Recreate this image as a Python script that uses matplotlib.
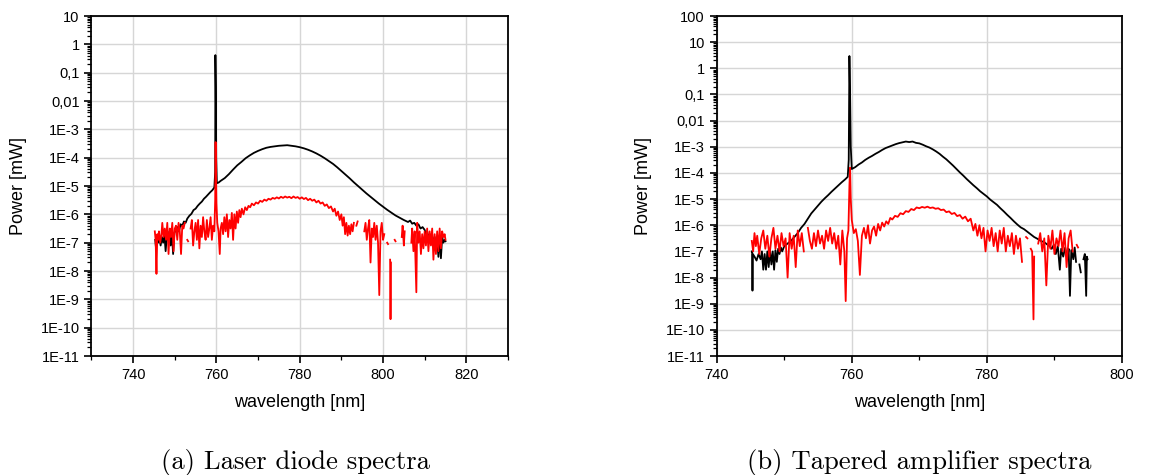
"""
Spectra of the laser diode and the tapered amplifier, log power vs wavelength.
Saves out.png.
"""

import matplotlib
matplotlib.use("Agg")
import matplotlib.pyplot as plt
import matplotlib.ticker as mticker
import numpy as np

nan = float("nan")

plt.rcParams.update({
    "font.family": ["Liberation Sans", "DejaVu Sans"],
    "font.size": 10.5,
    "axes.linewidth": 1.3,
})

# ── values: wavelength [nm], log10(power / mW) ──────────────────────────────
# (a) laser diode, black trace
ld_black_wl = [
    745.3, 745.5, 745.7, 746.0, 746.3, 746.6, 746.9, 747.2, 747.5, 747.8,
    748.1, 748.4, 748.7, 749.0, 749.3, 749.6, 749.9, 750.3, 750.7, 751.0,
    751.4, 751.8, 752.2, 752.6, 753.0, 753.5, 754.0, 754.5, 755.0, 755.5,
    756.0, 756.5, 757.0, 757.5, 758.0, 758.5, 759.0, 759.5, 759.7, 759.75,
    759.85, 759.95, 760.1, 760.5, 761.0, 762.0, 763.0, 764.0, 765.0, 766.0,
    767.0, 768.0, 769.0, 770.0, 771.0, 772.0, 773.0, 774.0, 775.0, 776.0,
    777.0, 778.0, 779.0, 780.0, 781.0, 782.0, 783.0, 784.0, 785.0, 786.0,
    787.0, 788.0, 789.0, 790.0, 791.0, 792.0, 793.0, 794.0, 795.0, 796.0,
    797.0, 798.0, 799.0, 800.0, 801.0, 802.0, 803.0, 804.0, 805.0, 806.0,
    806.5, 807.0, 807.5, 808.0, 808.5, 809.0, 809.5, 810.0, 810.3, 810.6,
    810.9, 811.2, 811.5, 811.8, 812.1, 812.4, 812.7, 813.0, 813.3, 813.6,
    813.9, 814.2, 814.5, 814.8, 815.0,
]
ld_black_logp = [
    -6.9, -7.2, -6.8, -7.0, -6.85, -7.1, -6.8, -7.0, -6.7, -7.3,
    -6.75, -6.9, -6.6, -7.1, -6.7, -7.4, -6.65, -6.55, -6.45, -6.6,
    -6.35, -6.4, -6.25, -6.3, -6.15, -6.05, -5.98, -5.85, -5.8, -5.7,
    -5.62, -5.55, -5.45, -5.38, -5.3, -5.22, -5.15, -5.05, -4.5, -0.38,
    -1.5, -4.0, -4.9, -4.88, -4.82, -4.72, -4.58, -4.42, -4.27, -4.15,
    -4.02, -3.92, -3.83, -3.76, -3.7, -3.65, -3.62, -3.6, -3.58, -3.57,
    -3.56, -3.58, -3.6, -3.63, -3.67, -3.72, -3.78, -3.85, -3.93, -4.02,
    -4.12, -4.22, -4.34, -4.47, -4.6, -4.73, -4.87, -5.0, -5.13, -5.26,
    -5.38, -5.5, -5.62, -5.73, -5.84, -5.94, -6.04, -6.12, -6.2, -6.27,
    -6.22, -6.33, -6.3, -6.4, -6.35, -6.5, -6.45, -6.55, -6.7, -6.6,
    -6.85, -6.7, -6.95, -6.75, -7.1, -6.8, -7.2, -6.9, -7.5, -6.75,
    -7.55, -6.8, -7.0, -6.9, -6.95,
]

# (a) laser diode, red trace (gaps = no positive reading)
ld_red_wl = [
    745.2, 745.4, 745.6, 745.8, 746.0, 746.2, 746.5, 746.8, 747.0, 747.3,
    747.6, 747.9, 748.2, 748.5, 748.8, 749.1, 749.4, 749.7, 750.0, 750.3,
    750.6, 750.9, 751.2, 751.5, 751.8, 752.1, 752.4, 752.7, 753.0, 753.2,
    753.4, 753.8, 754.1, 754.4, 754.7, 755.0, 755.3, 755.6, 755.9, 756.2,
    756.5, 756.8, 757.1, 757.4, 757.7, 758.0, 758.3, 758.6, 758.9, 759.2,
    759.5, 759.7, 759.8, 759.9, 760.0, 760.2, 760.5, 760.8, 761.0, 761.3,
    761.6, 761.9, 762.2, 762.5, 762.8, 763.1, 763.4, 763.7, 764.0, 764.3,
    764.6, 764.9, 765.2, 765.5, 765.8, 766.1, 766.5, 766.9, 767.3, 767.7,
    768.1, 768.5, 769.0, 769.5, 770.0, 770.5, 771.0, 771.5, 772.0, 772.5,
    773.0, 773.5, 774.0, 774.5, 775.0, 775.5, 776.0, 776.5, 777.0, 777.5,
    778.0, 778.5, 779.0, 779.5, 780.0, 780.5, 781.0, 781.5, 782.0, 782.5,
    783.0, 783.5, 784.0, 784.5, 785.0, 785.5, 786.0, 786.5, 787.0, 787.5,
    788.0, 788.4, 788.8, 789.2, 789.6, 790.0, 790.3, 790.6, 790.9, 791.2,
    791.5, 791.8, 792.1, 792.4, 792.7, 793.0, 793.3, 793.6, 793.9, 794.2,
    795.5, 795.8, 796.1, 796.4, 796.7, 797.0, 797.3, 797.6, 797.9, 798.2,
    798.5, 798.8, 799.1, 799.4, 799.7, 800.0, 800.3, 800.6, 801.0, 801.2,
    801.4, 801.7, 801.8, 801.9, 802.0, 802.8, 803.0, 803.1, 804.5, 804.7,
    805.0, 805.2, 805.4, 806.8, 807.0, 807.3, 807.6, 808.0, 808.2, 808.5,
    808.8, 809.1, 809.4, 809.7, 810.0, 810.3, 810.6, 810.9, 811.2, 811.5,
    811.8, 812.1, 812.4, 812.7, 813.0, 813.3, 813.6, 813.9, 814.2, 814.5,
    814.8, 815.0,
]
ld_red_logp = [
    -6.6, -6.9, -8.1, -6.7, -6.9, -6.6, -7.0, -6.7, -6.3, -6.8,
    -6.5, -6.9, -6.3, -7.4, -6.5, -6.8, -6.3, -7.3, -6.5, -6.4,
    -6.9, -6.3, -6.6, -7.4, -6.4, -6.5, -6.3, nan, -6.9, -6.95,
    nan, -6.5, -6.2, -7.1, -6.6, -6.3, -6.9, -6.2, -7.2, -6.4,
    -6.8, -6.1, -6.6, -6.9, -6.2, -6.8, -6.5, -6.1, -6.9, -6.4,
    -6.6, -5.5, -3.45, -4.6, -5.6, -6.3, -6.6, -7.4, -6.5, -6.3,
    -6.7, -6.1, -6.6, -6.0, -6.8, -6.2, -6.5, -5.95, -6.9, -6.0,
    -6.5, -5.9, -6.3, -5.85, -6.1, -5.8, -6.0, -5.75, -5.85, -5.7,
    -5.75, -5.62, -5.68, -5.58, -5.62, -5.52, -5.56, -5.48, -5.52, -5.45,
    -5.48, -5.42, -5.45, -5.4, -5.44, -5.38, -5.42, -5.37, -5.41, -5.38,
    -5.43, -5.37, -5.42, -5.39, -5.45, -5.4, -5.46, -5.42, -5.5, -5.45,
    -5.52, -5.48, -5.58, -5.52, -5.62, -5.58, -5.7, -5.65, -5.78, -5.72,
    -5.9, -5.8, -6.05, -5.9, -6.2, -6.0, -6.4, -6.1, -6.7, -6.3,
    -6.75, -6.4, -6.7, -6.35, -6.6, -6.3, nan, -6.4, -6.25, nan,
    -6.6, -6.3, -6.9, -6.5, -6.2, -7.7, -6.5, -6.8, -6.3, -6.9,
    -6.4, -7.0, -8.85, -6.6, -6.3, -6.9, -6.7, nan, -7.0, -7.05,
    nan, -7.6, -9.7, -7.7, nan, -6.9, -6.95, nan, -6.8, -6.4,
    -7.1, -6.6, nan, -7.0, -6.5, -7.3, -6.6, -8.75, -6.3, -7.0,
    -6.6, -7.4, -6.7, -7.2, -6.6, -7.1, -6.5, -7.3, -6.6, -7.1,
    -6.5, -7.6, -6.7, -7.4, -6.6, -7.3, -6.5, -7.2, -6.6, -6.8,
    -6.7, -6.9,
]

# (b) tapered amplifier, black trace
ta_black_wl = [
    745.2, 745.25, 745.3, 745.35, 745.6, 745.9, 746.2, 746.5, 746.7, 746.9,
    747.1, 747.3, 747.5, 747.7, 747.9, 748.1, 748.3, 748.5, 748.7, 748.9,
    749.1, 749.3, 749.5, 749.7, 750.0, 750.5, 751.0, 751.5, 752.0, 752.5,
    753.0, 753.5, 754.0, 754.5, 755.0, 755.5, 756.0, 756.5, 757.0, 757.5,
    758.0, 758.5, 759.0, 759.4, 759.55, 759.65, 759.75, 759.85, 760.0, 760.5,
    761.0, 761.5, 762.0, 762.5, 763.0, 763.5, 764.0, 764.5, 765.0, 765.5,
    766.0, 766.5, 767.0, 767.5, 768.0, 768.5, 769.0, 769.5, 770.0, 770.5,
    771.0, 771.5, 772.0, 772.5, 773.0, 773.5, 774.0, 774.5, 775.0, 775.5,
    776.0, 776.5, 777.0, 777.5, 778.0, 778.5, 779.0, 779.5, 780.0, 780.5,
    781.0, 781.5, 782.0, 782.5, 783.0, 783.5, 784.0, 784.5, 785.0, 785.5,
    786.0, 786.5, 787.0, 787.5, 788.0, 788.5, 789.0, 789.3, 789.6, 789.9,
    790.2, 790.5, 790.8, 791.0, 791.3, 791.6, 791.9, 792.1, 792.3, 792.5,
    792.8, 793.0, 793.2, 793.4, 793.7, 793.9, 794.1, 794.3, 794.5, 794.7,
    794.8, 794.9,
]
ta_black_logp = [
    -7.0, -7.0, -8.5, -7.1, -7.2, -7.35, -7.1, -7.3, -7.0, -7.7,
    -7.1, -7.7, -7.0, -7.6, -6.95, -7.5, -7.0, -7.7, -6.95, -7.4,
    -6.9, -7.1, -6.85, -7.0, -6.8, -6.7, -6.6, -6.45, -6.3, -6.1,
    -5.95, -5.75, -5.55, -5.4, -5.25, -5.1, -4.97, -4.85, -4.72, -4.6,
    -4.48, -4.36, -4.25, -4.15, -3.5, 0.47, -1.0, -3.0, -3.85, -3.78,
    -3.68, -3.6, -3.5, -3.42, -3.35, -3.27, -3.2, -3.12, -3.05, -3.0,
    -2.95, -2.9, -2.86, -2.83, -2.8, -2.82, -2.8, -2.85, -2.87, -2.92,
    -2.98, -3.03, -3.1, -3.18, -3.27, -3.38, -3.48, -3.6, -3.72, -3.85,
    -3.98, -4.1, -4.23, -4.35, -4.47, -4.58, -4.7, -4.8, -4.9, -5.02,
    -5.12, -5.22, -5.35, -5.47, -5.6, -5.72, -5.85, -5.97, -6.08, -6.15,
    -6.25, -6.35, -6.45, -6.52, -6.6, -6.65, -6.75, -6.8, -6.9, -6.75,
    -7.1, -6.8, -7.7, -6.9, -7.2, -6.85, -7.3, -6.9, -8.7, -6.95,
    -7.3, -6.85, -7.4, nan, -7.5, -7.8, nan, -7.3, -7.1, -8.7,
    -7.2, -7.3,
]

# (b) tapered amplifier, red trace
ta_red_wl = [
    745.2, 745.4, 745.6, 745.8, 746.0, 746.3, 746.6, 746.9, 747.2, 747.5,
    747.8, 748.1, 748.4, 748.7, 749.0, 749.3, 749.6, 749.9, 750.2, 750.5,
    750.8, 751.1, 751.4, 751.7, 752.0, 752.3, 752.6, 752.9, 753.1, 753.5,
    753.8, 754.1, 754.4, 754.7, 755.0, 755.3, 755.6, 755.9, 756.2, 756.5,
    756.8, 757.1, 757.4, 757.7, 758.0, 758.3, 758.6, 758.9, 759.1, 759.3,
    759.5, 759.65, 759.75, 759.85, 760.0, 760.3, 760.6, 760.9, 761.2, 761.5,
    761.8, 762.1, 762.4, 762.7, 763.0, 763.3, 763.6, 763.9, 764.2, 764.5,
    764.8, 765.1, 765.4, 765.7, 766.0, 766.4, 766.8, 767.2, 767.6, 768.0,
    768.4, 768.8, 769.2, 769.6, 770.0, 770.4, 770.8, 771.2, 771.6, 772.0,
    772.4, 772.8, 773.2, 773.6, 774.0, 774.4, 774.8, 775.2, 775.6, 776.0,
    776.4, 776.8, 777.2, 777.6, 778.0, 778.3, 778.6, 778.9, 779.2, 779.5,
    779.8, 780.1, 780.4, 780.7, 781.0, 781.3, 781.6, 781.9, 782.2, 782.5,
    782.8, 783.1, 783.4, 783.7, 784.0, 784.3, 784.6, 784.9, 785.2, 785.4,
    785.8, 786.0, 786.1, 786.5, 786.7, 786.9, 787.0, 787.1, 787.6, 787.9,
    788.2, 788.5, 788.8, 789.1, 789.4, 789.7, 790.0, 790.3, 790.6, 790.9,
    791.2, 791.5, 791.8, 792.1, 792.4, 792.7, 792.9, 793.3, 793.5,
]
ta_red_logp = [
    -6.6, -7.0, -6.3, -6.8, -6.4, -7.1, -6.5, -6.2, -6.9, -6.4,
    -7.2, -6.5, -6.1, -6.9, -6.4, -7.0, -6.3, -6.8, -6.5, -8.0,
    -6.3, -6.9, -6.4, -7.6, -6.2, -6.8, -6.3, -7.0, nan, -6.1,
    -6.6, -6.9, -6.3, -6.8, -6.2, -6.7, -6.4, -6.9, -6.2, -6.6,
    -6.1, -6.7, -6.3, -6.9, -6.4, -7.5, -6.2, -7.0, -8.9, -6.5,
    -6.2, -4.5, -3.8, -5.0, -5.8, -6.3, -6.15, -6.6, -7.9, -6.4,
    -6.1, -6.5, -6.0, -6.7, -6.2, -6.05, -6.4, -5.95, -6.2, -5.9,
    -6.05, -5.85, -5.95, -5.72, -5.78, -5.64, -5.68, -5.54, -5.58, -5.46,
    -5.49, -5.38, -5.42, -5.32, -5.35, -5.3, -5.33, -5.29, -5.34, -5.32,
    -5.37, -5.35, -5.42, -5.4, -5.5, -5.47, -5.57, -5.53, -5.65, -5.61,
    -5.75, -5.67, -5.85, -5.75, -6.2, -5.95, -6.4, -6.0, -6.5, -6.1,
    -7.0, -6.2, -6.6, -6.1, -6.8, -6.3, -7.0, -6.2, -6.7, -6.1,
    -7.0, -6.4, -6.8, -6.3, -7.1, -6.4, -6.9, -6.5, -7.4, nan,
    -6.45, -6.5, nan, -6.9, -7.0, -9.6, -7.2, nan, -6.7, -6.3,
    -7.0, -6.5, -8.3, -6.4, -6.9, -6.2, -7.1, -6.5, -6.8, -6.2,
    -7.0, -6.3, -7.6, -6.5, -6.2, -7.0, nan, -6.75, -6.85,
]


def fmt_power(v, _):
    e = int(round(np.log10(v)))
    if e >= 0:
        return f"{10 ** e}"
    if e >= -2:
        return f"{10.0 ** e:.{-e}f}".replace(".", ",")
    return f"1E{e}"


def style_axes(ax, xlim, ytop):
    ax.set_yscale("log")
    ax.set_xlim(*xlim)
    ax.set_ylim(1e-11, ytop)
    ax.xaxis.set_major_locator(mticker.MultipleLocator(20))
    ax.xaxis.set_minor_locator(mticker.MultipleLocator(10))
    ax.yaxis.set_major_locator(mticker.LogLocator(base=10, numticks=30))
    ax.yaxis.set_minor_locator(mticker.LogLocator(base=10, subs=range(2, 10), numticks=30))
    ax.yaxis.set_major_formatter(mticker.FuncFormatter(fmt_power))
    ax.yaxis.set_minor_formatter(mticker.NullFormatter())
    ax.tick_params(which="both", direction="out", top=False, right=False)
    ax.tick_params(which="major", length=5, width=1.2)
    ax.tick_params(which="minor", length=3, width=0.9)
    ax.grid(which="major", color="#d6d6d6", linewidth=1.0)
    ax.set_axisbelow(True)
    ax.set_xlabel("wavelength [nm]", fontsize=13, labelpad=9)
    ax.set_ylabel("Power [mW]", fontsize=13, labelpad=10)


fig = plt.figure(figsize=(11.64, 4.75), dpi=100)
ax_a = fig.add_axes([0.0786, 0.2505, 0.3578, 0.7158])
ax_b = fig.add_axes([0.6157, 0.2505, 0.3482, 0.7158])

ax_a.plot(ld_black_wl, 10 ** np.array(ld_black_logp), color="black", lw=1.3)
ax_a.plot(ld_red_wl, 10 ** np.array(ld_red_logp), color="red", lw=1.3)
style_axes(ax_a, (730, 830), 10)

ax_b.plot(ta_black_wl, 10 ** np.array(ta_black_logp), color="black", lw=1.3)
ax_b.plot(ta_red_wl, 10 ** np.array(ta_red_logp), color="red", lw=1.3)
style_axes(ax_b, (740, 800), 100)

fig.text(0.254, 0.027, "(a) Laser diode spectra", family="cmr10", fontsize=19.2,
         ha="center", va="center")
fig.text(0.790, 0.027, "(b) Tapered amplifier spectra", family="cmr10", fontsize=19.2,
         ha="center", va="center")

fig.savefig("out.png", dpi=100)
